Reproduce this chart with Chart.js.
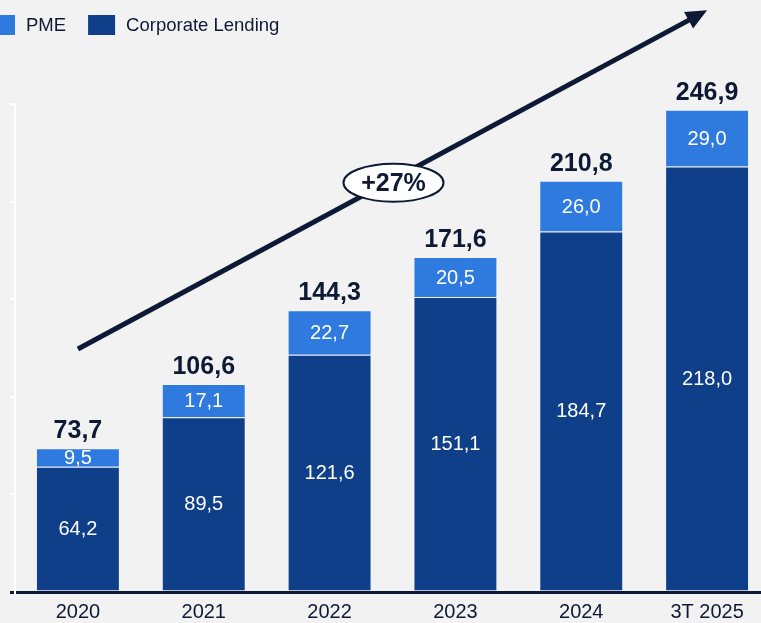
<!DOCTYPE html>
<html>
<head>
<meta charset="utf-8">
<script src="https://cdn.jsdelivr.net/npm/chart.js@4.4.1/dist/chart.umd.min.js"></script>
<style>
  html, body { margin: 0; padding: 0; background: #f2f2f2; overflow: hidden; }
  #wrap { position: relative; width: 772px; height: 623px; overflow: hidden; }
</style>
</head>
<body>
<div id="wrap"><canvas id="chart" width="772" height="632"></canvas></div>
<script>
const years = ["2020", "2021", "2022", "2023", "2024", "3T 2025"];
const corporateLending = [64.2, 89.5, 121.6, 151.1, 184.7, 218.0];
const pme = [9.5, 17.1, 22.7, 20.5, 26.0, 29.0];
const totals = [73.7, 106.6, 144.3, 171.6, 210.8, 246.9];
const growthLabel = "+27%";
// arrow runs from the first to the last category, values on the y scale
const arrowStart = 124.5;
const arrowEnd = 298;

const LIGHT = "#2f7ade";
const DARK = "#103f8a";
const NAVY = "#0e1a35";
const FONT = "'Liberation Sans', Arial, sans-serif";

const fmt = (v) => v.toFixed(1).replace(".", ",");

const labelsPlugin = {
  id: "labels",
  afterDatasetsDraw(chart) {
    const ctx = chart.ctx;
    ctx.save();
    ctx.textAlign = "center";
    ctx.textBaseline = "middle";

    // values inside the segments
    ctx.fillStyle = "#ffffff";
    ctx.font = "20px " + FONT;
    chart.data.datasets.forEach((ds, di) => {
      chart.getDatasetMeta(di).data.forEach((el, i) => {
        ctx.fillText(fmt(ds.data[i]), el.x, (el.y + el.base) / 2 + 1);
      });
    });

    // totals above the bars
    ctx.fillStyle = NAVY;
    ctx.font = "bold 25px " + FONT;
    const top = chart.getDatasetMeta(1).data;
    top.forEach((el, i) => {
      ctx.fillText(fmt(totals[i]), el.x, el.y - 17);
    });

    // growth arrow
    const x = chart.scales.x, y = chart.scales.y;
    const x0 = x.getPixelForValue(0), y0 = y.getPixelForValue(arrowStart);
    const x1 = x.getPixelForValue(years.length - 1), y1 = y.getPixelForValue(arrowEnd);
    const ang = Math.atan2(y1 - y0, x1 - x0);
    const headLen = 21, headW = 9.5;
    const bx = x1 - headLen * Math.cos(ang), by = y1 - headLen * Math.sin(ang);
    ctx.strokeStyle = NAVY;
    ctx.lineWidth = 5;
    ctx.beginPath();
    ctx.moveTo(x0, y0);
    ctx.lineTo(bx + 3 * Math.cos(ang), by + 3 * Math.sin(ang));
    ctx.stroke();
    ctx.fillStyle = NAVY;
    ctx.beginPath();
    ctx.moveTo(x1, y1);
    ctx.lineTo(bx + headW * Math.sin(ang), by - headW * Math.cos(ang));
    ctx.lineTo(bx - headW * Math.sin(ang), by + headW * Math.cos(ang));
    ctx.closePath();
    ctx.fill();

    // ellipse with CAGR
    const mx = (x0 + x1) / 2 + 1, my = (y0 + y1) / 2 + 3;
    ctx.beginPath();
    ctx.ellipse(mx, my, 50, 19, 0, 0, Math.PI * 2);
    ctx.fillStyle = "#ffffff";
    ctx.fill();
    ctx.lineWidth = 2;
    ctx.strokeStyle = NAVY;
    ctx.stroke();
    ctx.fillStyle = NAVY;
    ctx.font = "bold 25px " + FONT;
    ctx.fillText(growthLabel, mx, my + 1);

    ctx.restore();
  },
  afterDraw(chart) {
    // legend (PME first, then Corporate Lending)
    const ctx = chart.ctx;
    ctx.save();
    ctx.font = "18.5px " + FONT;
    ctx.textBaseline = "middle";
    ctx.textAlign = "left";
    const items = [chart.data.datasets[1], chart.data.datasets[0]];
    let bx = -12;
    items.forEach((ds) => {
      ctx.fillStyle = ds.backgroundColor;
      ctx.fillRect(bx, 15, 27, 20);
      ctx.fillStyle = NAVY;
      ctx.fillText(ds.label, bx + 38, 26);
      bx += 38 + ctx.measureText(ds.label).width + 22;
    });
    ctx.restore();
  },
};

new Chart(document.getElementById("chart"), {
  type: "bar",
  data: {
    labels: years,
    datasets: [
      {
        label: "Corporate Lending",
        data: corporateLending,
        backgroundColor: DARK,
        borderColor: "rgba(255,255,255,0.18)",
        borderWidth: 1,
      },
      {
        label: "PME",
        data: pme,
        backgroundColor: LIGHT,
        borderColor: "rgba(255,255,255,0.18)",
        borderWidth: 1,
      },
    ],
  },
  options: {
    responsive: false,
    animation: false,
    layout: { padding: { top: 104, left: 10, right: 2, bottom: 0 } },
    datasets: { bar: { categoryPercentage: 1, barPercentage: 0.667 } },
    plugins: {
      legend: { display: false },
      tooltip: { enabled: false },
    },
    scales: {
      x: {
        stacked: true,
        grid: { display: false, drawTicks: false },
        border: { display: true, color: NAVY, width: 3 },
        ticks: { color: NAVY, padding: 8, font: { family: FONT, size: 20 } },
      },
      y: {
        stacked: true,
        min: 0,
        max: 250,
        ticks: { display: false, stepSize: 50 },
        grid: {
          drawOnChartArea: false,
          drawTicks: true,
          tickLength: 5,
          lineWidth: (c) => (c.tick && c.tick.value === 0 ? 3 : 2),
          color: (c) => (c.tick && c.tick.value === 0 ? NAVY : "#ffffff"),
        },
        border: { display: true, color: "#ffffff", width: 2 },
      },
    },
  },
  plugins: [labelsPlugin],
});
</script>
</body>
</html>
